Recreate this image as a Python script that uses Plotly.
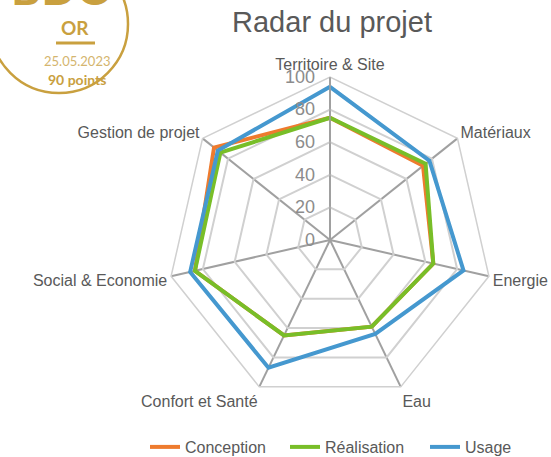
import plotly.graph_objects as go

W, H = 551, 457

categories = ["Territoire & Site", "Matériaux", "Energie", "Eau",
              "Confort et Santé", "Social & Economie", "Gestion de projet"]
conception = [75, 73, 65, 59, 65, 85, 91]
realisation = [75, 75, 65, 59, 65, 85, 86]
usage = [94, 78, 84, 64, 87, 88, 88]
radial_ticks = [0, 20, 40, 60, 80, 100]

series = [
    ("Conception", conception, "#EE7B2E"),
    ("Réalisation", realisation, "#78BE28"),
    ("Usage", usage, "#4598CF"),
]

fig = go.Figure()
for name, vals, color in series:
    fig.add_trace(go.Scatterpolar(
        r=vals + vals[:1],
        theta=categories + categories[:1],
        mode="lines",
        name=name,
        line=dict(color=color, width=4),
    ))


def px(x):
    return x / W


def py(y):
    return 1 - y / H


cx, cy, rad = 330, 240, 163
gold = "#C9A03F"

fig.update_layout(
    width=W, height=H,
    margin=dict(l=0, r=0, t=0, b=0, autoexpand=False),
    paper_bgcolor="white",
    plot_bgcolor="white",
    font=dict(family="Liberation Sans, Arial, sans-serif", color="#595959"),
    title=dict(text="Radar du projet", x=px(332), y=py(22),
               xanchor="center", yanchor="middle",
               font=dict(size=29, color="#595959")),
    polar=dict(
        domain=dict(x=[px(cx - rad), px(cx + rad)],
                    y=[py(cy + rad), py(cy - rad)]),
        gridshape="linear",
        bgcolor="white",
        radialaxis=dict(
            range=[0, 100], tickvals=radial_ticks,
            angle=90, side="counterclockwise", tickangle=90,
            showline=True, linecolor="#A0A0A0", linewidth=1.5,
            gridcolor="#D0D0D0", gridwidth=1.5,
            ticks="outside", ticklen=8, tickcolor="rgba(0,0,0,0)",
            tickfont=dict(size=18, color="#8C8C8C"),
        ),
        angularaxis=dict(
            direction="clockwise", rotation=90,
            showline=True, linecolor="#D0D0D0", linewidth=1.5,
            gridcolor="#A0A0A0", gridwidth=1.5,
            ticks="", tickfont=dict(size=16, color="#595959"),
        ),
    ),
    legend=dict(orientation="h", xref="container", yref="container",
                x=px(355), y=py(447),
                xanchor="center", yanchor="middle",
                font=dict(size=16, color="#595959"),
                entrywidth=95, entrywidthmode="pixels",
                tracegroupgap=0),
    showlegend=True,
)

# Gold certification badge in the top-left corner
bx, by, br = 59, 24, 69
fig.add_shape(type="circle", xref="paper", yref="paper",
              x0=px(bx - br), x1=px(bx + br), y0=py(by + br), y1=py(by - br),
              line=dict(color=gold, width=2.5))
fig.add_shape(type="line", xref="paper", yref="paper",
              x0=px(56), x1=px(95), y0=py(43), y1=py(43),
              line=dict(color=gold, width=3))
fig.add_annotation(text="<b>BDO</b>", xref="paper", yref="paper",
                   x=px(62), y=py(-12), showarrow=False,
                   xanchor="center", yanchor="middle",
                   font=dict(size=46, color=gold, family="Lato, sans-serif"))
fig.add_annotation(text="<b>OR</b>", xref="paper", yref="paper",
                   x=px(75), y=py(27), showarrow=False,
                   xanchor="center", yanchor="middle",
                   font=dict(size=19, color=gold, family="Lato, sans-serif"))
fig.add_annotation(text="25.05.2023", xref="paper", yref="paper",
                   x=px(77), y=py(61), showarrow=False,
                   xanchor="center", yanchor="middle", borderpad=0,
                   font=dict(size=13, color="#D4B56E", family="Lato, sans-serif"))
fig.add_annotation(text="<b>90 points</b>", xref="paper", yref="paper",
                   x=px(77), y=py(79), showarrow=False,
                   xanchor="center", yanchor="middle", borderpad=0,
                   font=dict(size=14, color=gold, family="Lato, sans-serif"))

fig.write_html("out.html")
